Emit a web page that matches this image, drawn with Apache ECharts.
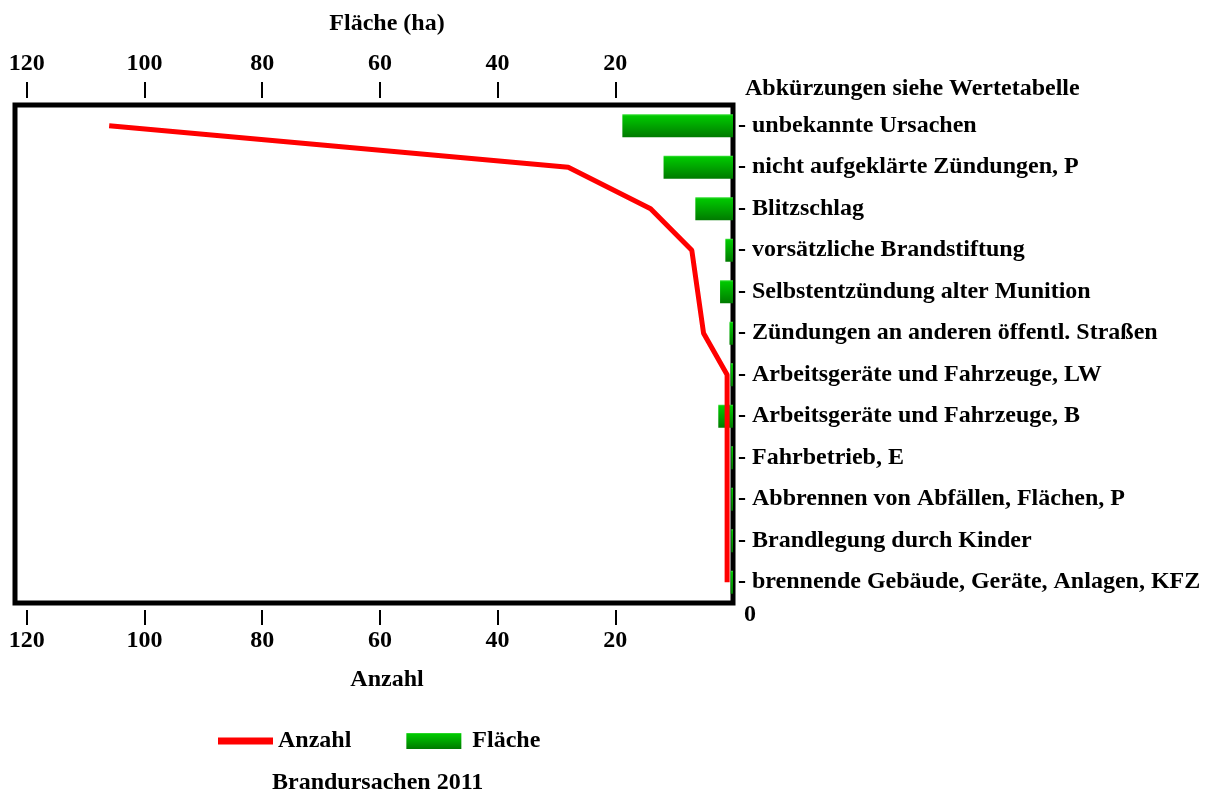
<!DOCTYPE html>
<html><head><meta charset="utf-8">
<script src="https://cdn.jsdelivr.net/npm/echarts@6/dist/echarts.min.js"></script>
<style>html,body{margin:0;padding:0;background:#fff}#c{width:1222px;height:794px}</style>
</head><body><div id="c"></div>
<script>
const categories = ['unbekannte Ursachen', 'nicht aufgeklärte Zündungen, P', 'Blitzschlag', 'vorsätzliche Brandstiftung', 'Selbstentzündung alter Munition', 'Zündungen an anderen öffentl. Straßen', 'Arbeitsgeräte und Fahrzeuge, LW', 'Arbeitsgeräte und Fahrzeuge, B', 'Fahrbetrieb, E', 'Abbrennen von Abfällen, Flächen, P', 'Brandlegung durch Kinder', 'brennende Gebäude, Geräte, Anlagen, KFZ'];
const anzahl = [106, 28, 14, 7, 6, 5, 1, 1, 1, 1, 1, 1];
const flaeche = [18.8, 11.8, 6.4, 1.3, 2.2, 0.6, 0.4, 2.5, 0.3, 0.3, 0.3, 0.4];
const topTicks = [20, 40, 60, 80, 100, 120];
const bottomTicks = [20, 40, 60, 80, 100, 120];

const FONT = 'Liberation Serif';
const txt = {fontFamily: FONT, fontWeight: 'bold', fontSize: 24, color: '#000'};

const chart = echarts.init(document.getElementById('c'), null, {renderer: 'canvas'});
const option = {
  animation: false,
  backgroundColor: '#fff',
  title: [
    {text: 'Brandursachen 2011', left: 272, top: 771, padding: 0, textStyle: txt},
    {text: 'Abkürzungen siehe Wertetabelle', left: 745, top: 77, padding: 0, textStyle: txt}
  ],
  legend: {
    left: 218, top: 729, padding: 0, itemWidth: 55, itemHeight: 16, itemGap: 55,
    textStyle: txt,
    data: [
      {name: 'Anzahl', icon: 'path://M0,0L0.05,0L0.05,0.05Z M0,4.5L55,4.5L55,11.5L0,11.5Z M54.95,16L55,16L55,15.95Z', itemStyle: {color: '#ff0000'}},
      {name: 'Fläche', icon: 'rect', textStyle: {padding: [0, 0, 0, 6]}}
    ]
  },
  grid: {left: 15, right: 489, top: 105, bottom: 191, show: true, borderColor: '#000', borderWidth: 5, backgroundColor: 'transparent'},
  xAxis: [
    {
      type: 'value', position: 'bottom', min: 0, max: 122, inverse: true, offset: 7,
      name: 'Anzahl', nameLocation: 'middle', nameGap: 58,
      nameTextStyle: Object.assign({}, txt, {padding: [0, 0, 0, 26]}),
      axisLine: {show: false},
      axisTick: {show: true, customValues: bottomTicks, length: 15, lineStyle: {color: '#000', width: 2}},
      axisLabel: Object.assign({customValues: bottomTicks, margin: 19}, txt),
      splitLine: {show: false}
    },
    {
      type: 'value', position: 'top', min: 0, max: 122, inverse: true, offset: 7,
      name: 'Fläche (ha)', nameLocation: 'middle', nameGap: 62,
      nameTextStyle: Object.assign({}, txt, {padding: [0, 0, 0, 26]}),
      axisLine: {show: false},
      axisTick: {show: true, customValues: topTicks, length: 16, lineStyle: {color: '#000', width: 2}},
      axisLabel: Object.assign({customValues: topTicks, margin: 22}, txt),
      splitLine: {show: false}
    }
  ],
  yAxis: {
    type: 'category', data: categories, inverse: true, position: 'right',
    axisLine: {show: false}, axisTick: {show: false},
    axisLabel: Object.assign({margin: 5, formatter: v => '- ' + v}, txt)
  },
  graphic: [
    {type: 'text', left: 744, top: 603, style: {text: '0', font: 'bold 24px "Liberation Serif"', fill: '#000'}}
  ],
  series: [
    {
      name: 'Anzahl', type: 'line', xAxisIndex: 0, data: anzahl,
      symbol: 'none', lineStyle: {color: '#ff0000', width: 5}, itemStyle: {color: '#ff0000'}, z: 3
    },
    {
      name: 'Fläche', type: 'bar', xAxisIndex: 1, data: flaeche, barWidth: 23,
      itemStyle: {color: new echarts.graphic.LinearGradient(0, 0, 0, 1, [
        {offset: 0, color: '#3ee03e'}, {offset: 0.08, color: '#00c800'}, {offset: 1, color: '#007a00'}
      ])}, z: 2
    }
  ]
};
chart.setOption(option);
</script></body></html>
